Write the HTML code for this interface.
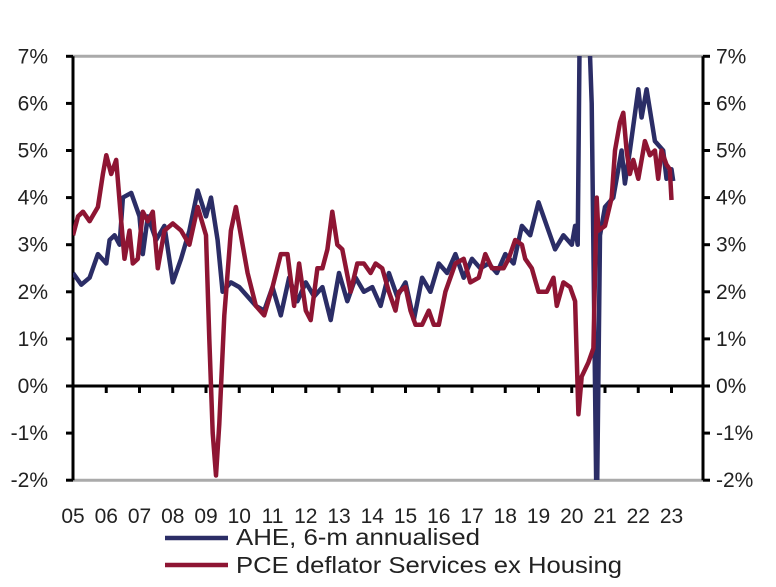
<!DOCTYPE html>
<html><head><meta charset="utf-8"><style>
body{margin:0;background:#fff}
svg text{font-family:"Liberation Sans",sans-serif;font-size:21px;fill:#222}
</style></head><body>
<svg width="776" height="582" id="c">
<defs><clipPath id="clip"><rect x="73" y="56" width="630" height="424"/></clipPath></defs>
<g id="axes"></g>
<g id="series" clip-path="url(#clip)"></g>
<g>
<line x1="165" y1="538" x2="228" y2="538" stroke="#2b2d66" stroke-width="4.5"/>
<text x="236" y="545" style="font-size:23px" textLength="244" lengthAdjust="spacingAndGlyphs">AHE, 6-m annualised</text>
<line x1="165" y1="565" x2="228" y2="565" stroke="#8e1533" stroke-width="4.5"/>
<text x="236" y="573" style="font-size:23px" textLength="386" lengthAdjust="spacingAndGlyphs">PCE deflator Services ex Housing</text>
</g>
</svg>
<script>
const yTicks=[7,6,5,4,3,2,1,0,-1,-2];
const years=["05","06","07","08","09","10","11","12","13","14","15","16","17","18","19","20","21","22","23"];
const aheT=[2005,2005.25,2005.5,2005.75,2006,2006.1,2006.25,2006.4,2006.5,2006.75,2007,2007.1,2007.25,2007.5,2007.75,2008,2008.25,2008.5,2008.75,2009,2009.15,2009.35,2009.5,2009.75,2010,2010.25,2010.5,2010.75,2011,2011.25,2011.5,2011.75,2012,2012.25,2012.5,2012.75,2013,2013.25,2013.5,2013.75,2014,2014.25,2014.5,2014.75,2015,2015.25,2015.5,2015.75,2016,2016.25,2016.5,2016.75,2017,2017.25,2017.5,2017.75,2018,2018.25,2018.5,2018.75,2019,2019.25,2019.5,2019.75,2020,2020.1,2020.18,2020.25,2020.5,2020.6,2020.75,2020.85,2021,2021.25,2021.5,2021.6,2021.75,2022,2022.1,2022.25,2022.5,2022.75,2022.85,2023,2023.05];
const aheV=[2.4,2.15,2.3,2.8,2.6,3.1,3.2,3.0,4.0,4.1,3.6,2.8,3.6,3.1,3.4,2.2,2.7,3.3,4.15,3.6,4.0,3.1,2.0,2.2,2.1,1.9,1.7,1.6,2.1,1.5,2.3,1.8,2.2,1.9,2.1,1.4,2.4,1.8,2.3,2.0,2.1,1.7,2.4,1.9,2.2,1.4,2.3,2.0,2.6,2.4,2.8,2.3,2.7,2.5,2.6,2.4,2.8,2.6,3.4,3.2,3.9,3.4,2.9,3.2,3.0,3.4,3.0,8.5,8.0,6.0,-3.0,3.2,3.8,4.0,5.0,4.3,5.0,6.3,5.7,6.3,5.2,5.0,4.4,4.6,4.35];
const pceT=[2005,2005.15,2005.3,2005.5,2005.75,2005.9,2006,2006.15,2006.3,2006.45,2006.55,2006.7,2006.8,2006.95,2007.1,2007.25,2007.4,2007.55,2007.75,2008,2008.25,2008.5,2008.75,2009,2009.1,2009.2,2009.3,2009.4,2009.55,2009.75,2009.9,2010.05,2010.25,2010.5,2010.75,2011,2011.25,2011.45,2011.65,2011.8,2012,2012.15,2012.35,2012.5,2012.65,2012.8,2012.95,2013.1,2013.35,2013.55,2013.75,2013.95,2014.1,2014.3,2014.5,2014.7,2014.8,2015,2015.15,2015.3,2015.5,2015.7,2015.85,2016,2016.2,2016.5,2016.75,2016.95,2017.2,2017.4,2017.6,2017.8,2017.95,2018.1,2018.3,2018.5,2018.6,2018.8,2019,2019.25,2019.45,2019.55,2019.75,2019.95,2020.1,2020.2,2020.3,2020.5,2020.65,2020.75,2020.8,2021,2021.2,2021.3,2021.45,2021.55,2021.65,2021.75,2021.85,2022,2022.2,2022.35,2022.5,2022.6,2022.7,2022.85,2022.95,2023];
const pceV=[3.2,3.6,3.7,3.5,3.8,4.5,4.9,4.5,4.8,3.5,2.7,3.3,2.6,2.7,3.7,3.5,3.7,2.5,3.3,3.45,3.3,3.0,3.8,3.2,1.0,-1.0,-1.9,-0.8,1.5,3.3,3.8,3.2,2.4,1.7,1.5,2.1,2.8,2.8,1.7,2.6,1.6,1.4,2.5,2.5,2.9,3.7,3.0,2.9,2.0,2.6,2.6,2.4,2.6,2.5,2.0,1.6,2.0,2.1,1.6,1.3,1.3,1.6,1.3,1.3,2.0,2.6,2.7,2.2,2.3,2.8,2.5,2.5,2.5,2.7,3.1,3.0,2.7,2.5,2.0,2.0,2.3,1.7,2.2,2.1,1.8,-0.6,0.2,0.5,0.8,4.0,3.3,3.4,4.0,5.0,5.6,5.8,5.0,4.5,4.8,4.4,5.2,4.9,5.0,4.4,5.0,4.7,4.6,3.95];
const NS="http://www.w3.org/2000/svg";
const X=t=>73+(t-2005)*33.25, Y=v=>386-v*47.1;
function mk(tag,at,parent){const e=document.createElementNS(NS,tag);for(const k in at)e.setAttribute(k,at[k]);parent.appendChild(e);return e;}
const ax=document.getElementById('axes');
let e;
e=mk('line',{x1:73,x2:703,y1:Y(7),y2:Y(7),stroke:'#aaa','stroke-width':3},ax);

e=mk('line',{x1:73,x2:703,y1:Y(-2),y2:Y(-2),stroke:'#aaa','stroke-width':3},ax);

e=mk('line',{x1:73,x2:73,y1:Y(7),y2:Y(-2),stroke:'#000','stroke-width':3},ax);

e=mk('line',{x1:703,x2:703,y1:Y(7),y2:Y(-2),stroke:'#000','stroke-width':3},ax);

e=mk('line',{x1:73,x2:703,y1:Y(0),y2:Y(0),stroke:'#000','stroke-width':3},ax);

yTicks.forEach(v=>{
 mk('line',{x1:66,x2:73,y1:Y(v),y2:Y(v),stroke:'#000','stroke-width':3},ax);
 mk('line',{x1:703,x2:710,y1:Y(v),y2:Y(v),stroke:'#000','stroke-width':3},ax);
 let t=mk('text',{x:48,y:Y(v)+7,'text-anchor':'end'},ax);t.textContent=v+'%';
 
 t=mk('text',{x:716,y:Y(v)+7},ax);t.textContent=v+'%';
 
});
years.forEach((s,i)=>{
 const x=X(2005+i);
 if(i>0)mk('line',{x1:x,x2:x,y1:Y(0),y2:Y(0)+7,stroke:'#000','stroke-width':3},ax);
 const t=mk('text',{x:x,y:523,'text-anchor':'middle'},ax);t.textContent=s;
 
});
const sg=document.getElementById('series');
function line(T,V,col,name){
 const d=T.map((t,i)=>(i?'L':'M')+X(t).toFixed(1)+','+Y(V[i]).toFixed(1)).join('');
 const p=mk('path',{d:d,fill:'none',stroke:col,'stroke-width':4.5,'stroke-linejoin':'round'},sg);
 
}
line(aheT,aheV,'#2b2d66','ahe-line');
line(pceT,pceV,'#8e1533','pce-line');
</script>
</body></html>
